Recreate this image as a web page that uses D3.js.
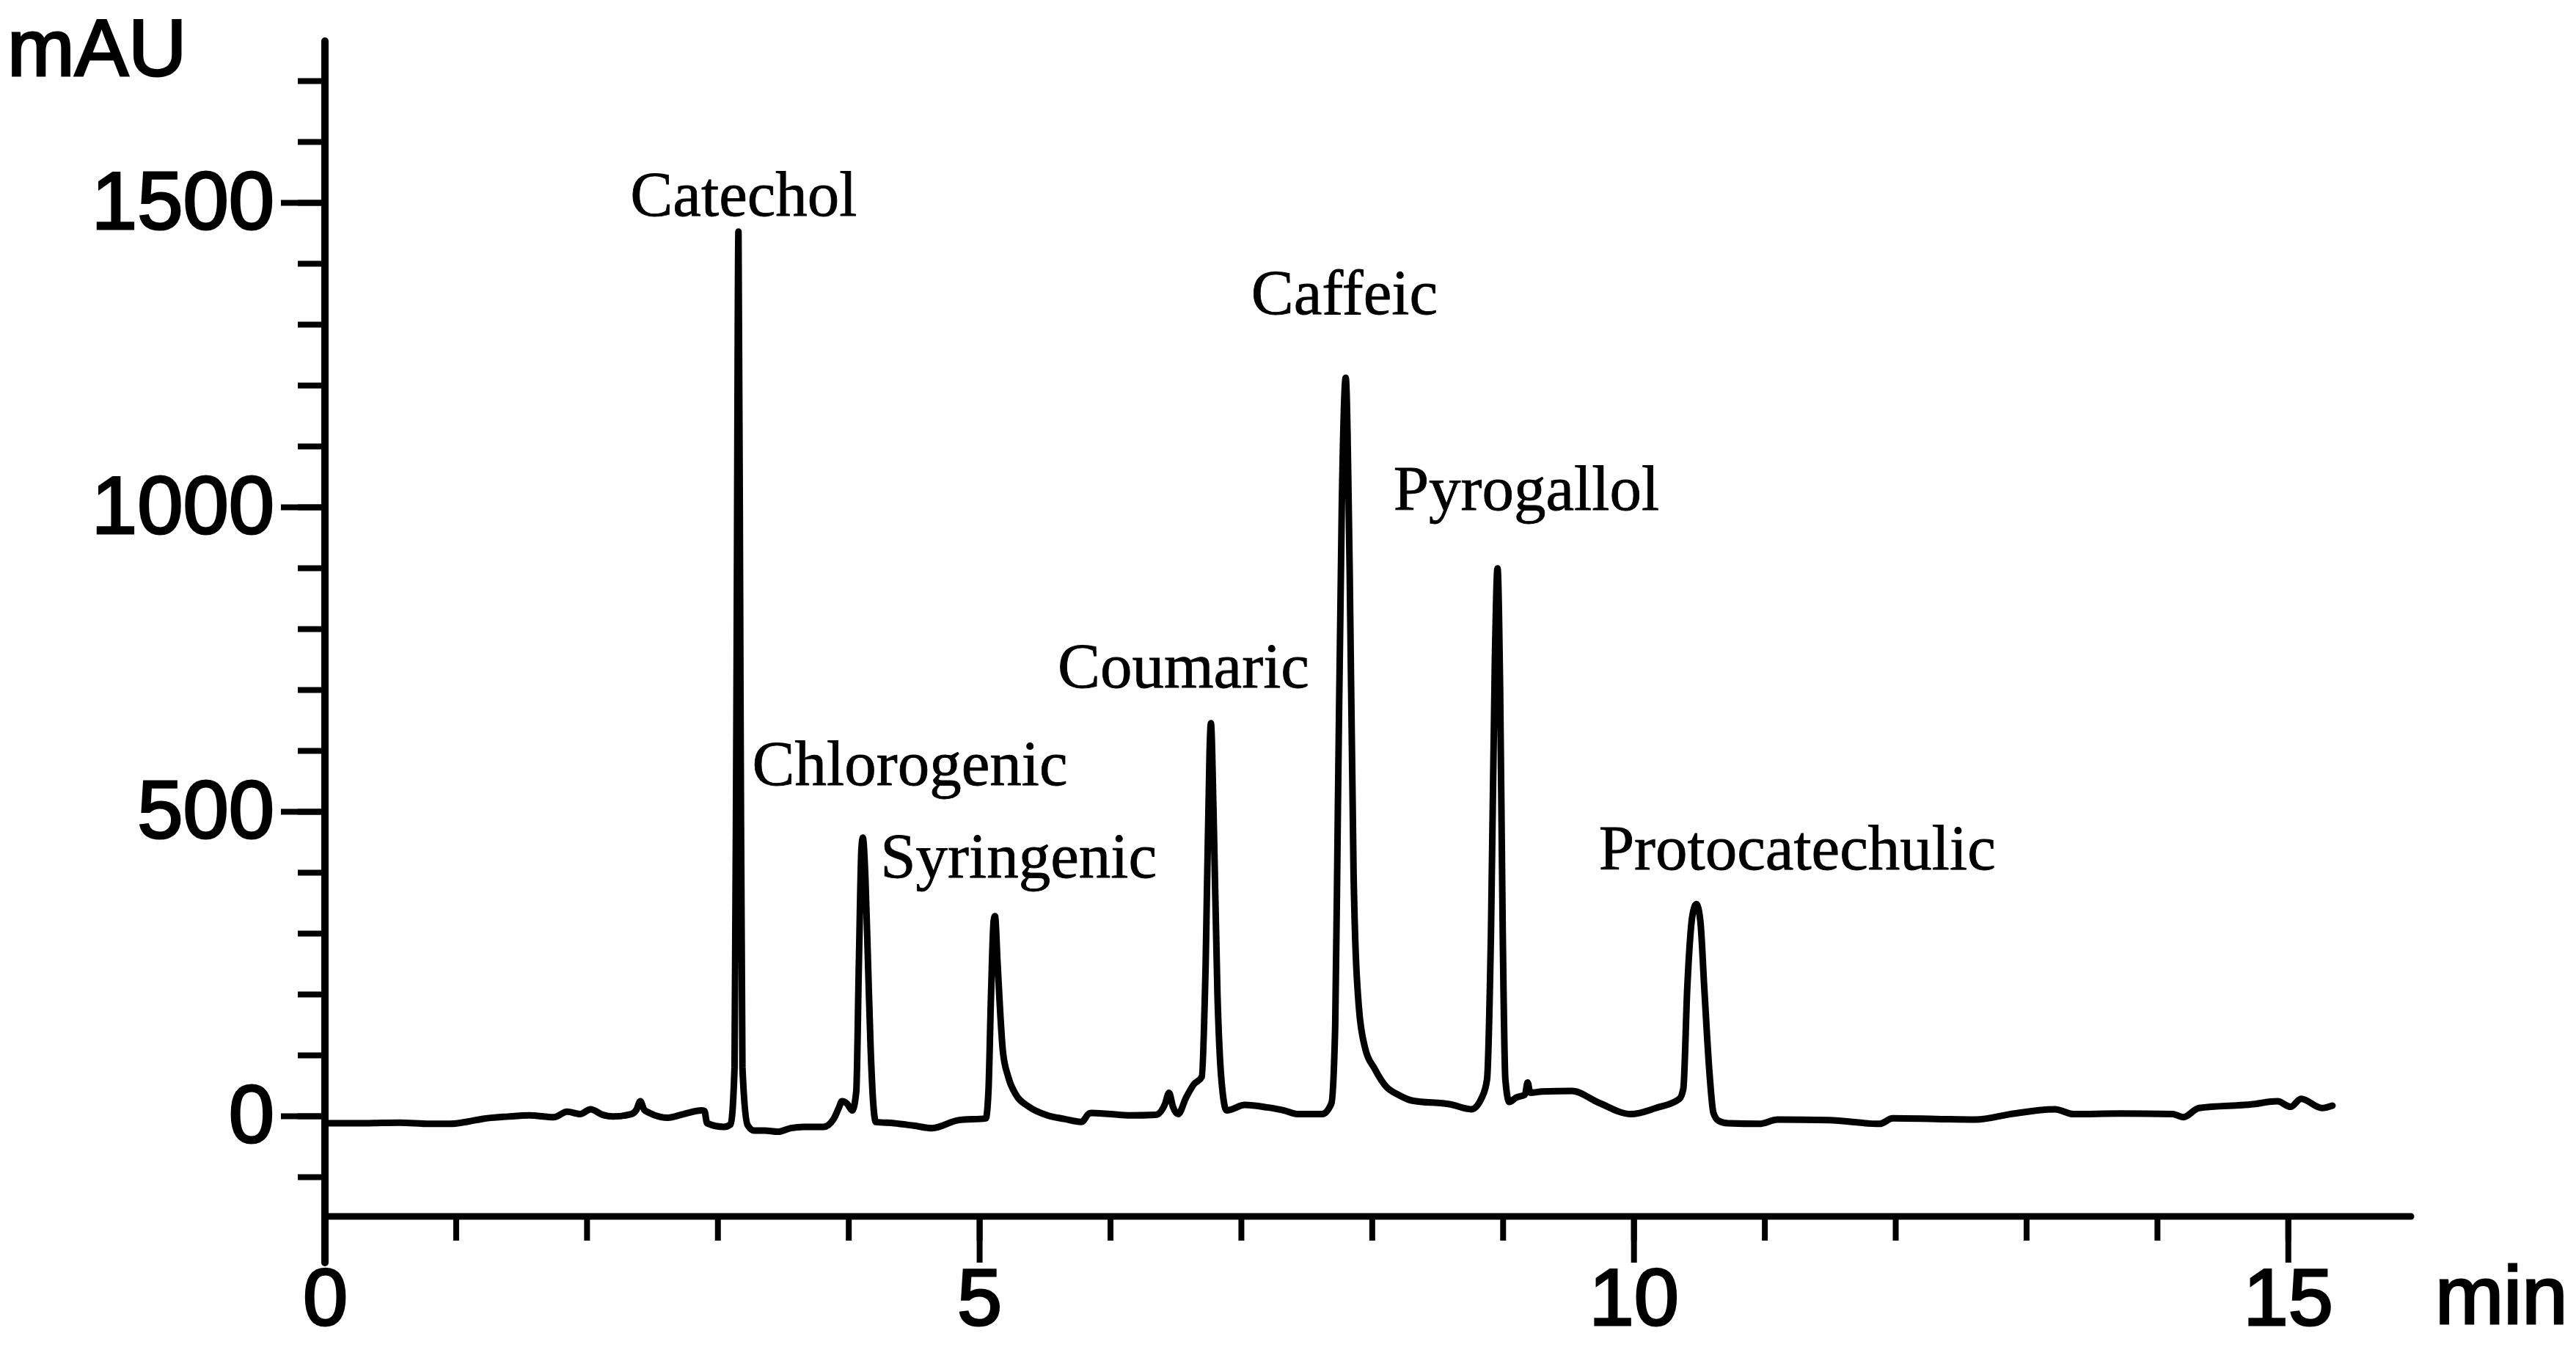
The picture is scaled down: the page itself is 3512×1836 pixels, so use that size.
<!DOCTYPE html>
<html>
<head>
<meta charset="utf-8">
<script src="https://cdn.jsdelivr.net/npm/d3@7"></script>
<style>
  html, body { margin: 0; padding: 0; background: #fff; }
  svg { display: block; }
  .axis path, .axis line { stroke: #000; }
  .axis text { font-family: "Liberation Sans", Arial, sans-serif; fill: #000; stroke: #000; stroke-width: 3px; }
  .peak-label { font-family: "Liberation Serif", "Times New Roman", serif; fill: #000; stroke: #000; stroke-width: 0.8px; }
</style>
</head>
<body>
<svg id="chart" width="3512" height="1836"></svg>
<script>
// ---- data (retention time in min, absorbance in mAU) ----
const time = [
  0.00, 0.30, 0.57, 0.80, 0.96, 1.10, 1.20, 1.40, 1.56, 1.75, 1.85, 1.95, 2.03, 2.12, 2.20, 2.34, 2.38, 2.41, 2.44, 2.48,
  2.62, 2.74, 2.88, 2.90, 2.92, 3.05, 3.10, 3.13, 3.145, 3.16, 3.175, 3.19, 3.23, 3.28, 3.36, 3.46, 3.56, 3.66, 3.81, 3.89,
  3.93, 3.95, 3.99, 4.03, 4.06, 4.08, 4.10, 4.11, 4.13, 4.15, 4.17, 4.19, 4.21, 4.35, 4.50, 4.64, 4.84, 5.05, 5.07, 5.09,
  5.11, 5.12, 5.14, 5.16, 5.18, 5.22, 5.28, 5.38, 5.52, 5.65, 5.78, 5.84, 5.86, 6.15, 6.35, 6.42, 6.45, 6.48, 6.52, 6.58,
  6.64, 6.70, 6.73, 6.76, 6.77, 6.79, 6.82, 6.85, 6.89, 7.03, 7.20, 7.33, 7.43, 7.62, 7.69, 7.72, 7.74, 7.77, 7.80, 7.83,
  7.86, 7.90, 7.95, 8.02, 8.11, 8.20, 8.31, 8.60, 8.76, 8.84, 8.88, 8.91, 8.94, 8.96, 8.98, 9.00, 9.02, 9.05, 9.10, 9.17,
  9.19, 9.21, 9.30, 9.53, 9.73, 9.98, 10.17, 10.35, 10.38, 10.41, 10.45, 10.48, 10.51, 10.54, 10.58, 10.61, 10.65, 10.72, 10.96, 11.10,
  11.49, 11.88, 11.98, 12.31, 12.61, 12.91, 13.22, 13.36, 13.72, 14.12, 14.20, 14.32, 14.72, 14.92, 15.02, 15.10, 15.26, 15.34
];
const absorbance = [
  -12, -12, -11, -13, -13, -9, -5, -1, 1, -2, 7, 3, 11, 2, -1, 3, 10, 24, 10, 5,
  -3, 3, 9, 8, -12, -18, -14, 80, 700, 1452, 700, 80, -15, -24, -24, -26, -20, -18, -18, -4,
  15, 24, 20, 9, 40, 250, 440, 457, 390, 250, 110, 20, -10, -12, -16, -20, -7, -4, 40, 200,
  320, 328, 250, 170, 107, 65, 35, 15, 1, -5, -10, 4, 5, 1, 2, 20, 38, 15, 3, 30,
  52, 64, 250, 600, 645, 500, 200, 60, 9, 18, 14, 9, 3, 3, 20, 150, 500, 1000, 1212, 900,
  400, 180, 110, 78, 48, 35, 25, 19, 11, 30, 60, 300, 750, 899, 700, 300, 60, 23, 30, 35,
  55, 38, 40, 41, 22, 3, 13, 28, 45, 210, 330, 348, 320, 210, 70, 5, -8, -12, -13, -6,
  -7, -13, -4, -5, -6, 4, 11, 3, 4, 3, -2, 13, 19, 24, 15, 28, 13, 17
];

const compounds   = ["Catechol", "Chlorogenic", "Syringenic", "Coumaric", "Caffeic", "Pyrogallol", "Protocatechulic"];
const labelTime   = [3.20, 4.47, 5.30, 6.56, 7.79, 9.18, 11.25];
const labelLevel  = [1478, 543, 392, 704, 1317, 995, 405];

const xMajorTicks = [0, 5, 10, 15];
const xMinorTicks = [0, 1, 2, 3, 4, 5, 6, 7, 8, 9, 10, 11, 12, 13, 14, 15];
const yMajorTicks = [0, 500, 1000, 1500];
const yMinorTicks = [-100, 0, 100, 200, 300, 400, 500, 600, 700, 800, 900, 1000, 1100, 1200, 1300, 1400, 1500, 1600, 1700];
const xTitle = "min";
const yTitle = "mAU";

// ---- layout ----
const svg = d3.select("#chart");
const x = d3.scaleLinear().domain([0, 15.94]).range([443, 3287]);
const y = d3.scaleLinear().domain([-165, 1765]).range([1658, 56]);
const y0 = y.range()[0];
const x0 = x.range()[0];
const AX = 9;
const TK = 8;

// x axis
const gx = svg.append("g").attr("class", "axis").attr("transform", `translate(0,${y0})`);
gx.append("g").call(d3.axisBottom(x).tickValues(xMinorTicks).tickSize(33).tickFormat("").tickSizeOuter(0))
  .call(g => g.select(".domain").remove())
  .selectAll("line").attr("stroke-width", TK);
gx.append("g").call(d3.axisBottom(x).tickValues(xMajorTicks).tickSize(63).tickPadding(7).tickSizeOuter(0).tickFormat(d3.format("d")))
  .call(g => g.select(".domain").remove())
  .call(g => g.selectAll("line").attr("stroke-width", TK))
  .call(g => g.selectAll("text").attr("font-size", 110));
gx.append("line").attr("x1", x0).attr("x2", x.range()[1]).attr("y1", 0).attr("y2", 0)
  .attr("stroke", "#000").attr("stroke-width", AX).attr("stroke-linecap", "round");

// y axis
const gy = svg.append("g").attr("class", "axis").attr("transform", `translate(${x0},0)`);
gy.append("g").call(d3.axisLeft(y).tickValues(yMinorTicks).tickSize(37).tickFormat("").tickSizeOuter(0))
  .call(g => g.select(".domain").remove())
  .selectAll("line").attr("stroke-width", TK);
gy.append("g").call(d3.axisLeft(y).tickValues(yMajorTicks).tickSize(60).tickPadding(9).tickSizeOuter(0).tickFormat(d3.format("d")))
  .call(g => g.select(".domain").remove())
  .call(g => g.selectAll("line").attr("stroke-width", TK))
  .call(g => g.selectAll("text").attr("font-size", 112));
gy.append("line").attr("x1", 0).attr("x2", 0).attr("y1", y.range()[1]).attr("y2", y0 + 63)
  .attr("stroke", "#000").attr("stroke-width", AX + 1).attr("stroke-linecap", "round");

// axis titles
svg.append("text").text(yTitle)
  .attr("x", 10).attr("y", 103).attr("font-size", 110)
  .attr("font-family", "Liberation Sans, Arial, sans-serif").attr("stroke", "#000").attr("stroke-width", 3);
svg.append("text").text(xTitle)
  .attr("x", 3320).attr("y", 1804).attr("font-size", 112)
  .attr("font-family", "Liberation Sans, Arial, sans-serif").attr("stroke", "#000").attr("stroke-width", 3);

// chromatogram trace
const pts = time.map((t, i) => [t, absorbance[i]]);
const line = d3.line().x(d => x(d[0])).y(d => y(d[1])).curve(d3.curveMonotoneX);
svg.append("path").datum(pts)
  .attr("d", line)
  .attr("fill", "none").attr("stroke", "#000").attr("stroke-width", 9)
  .attr("stroke-linejoin", "round").attr("stroke-linecap", "round");

// peak labels
svg.append("g").selectAll("text").data(compounds).join("text")
  .attr("class", "peak-label")
  .attr("x", (d, i) => x(labelTime[i]))
  .attr("y", (d, i) => y(labelLevel[i]))
  .attr("text-anchor", "middle")
  .attr("font-size", 87)
  .text(d => d);
</script>
</body>
</html>
